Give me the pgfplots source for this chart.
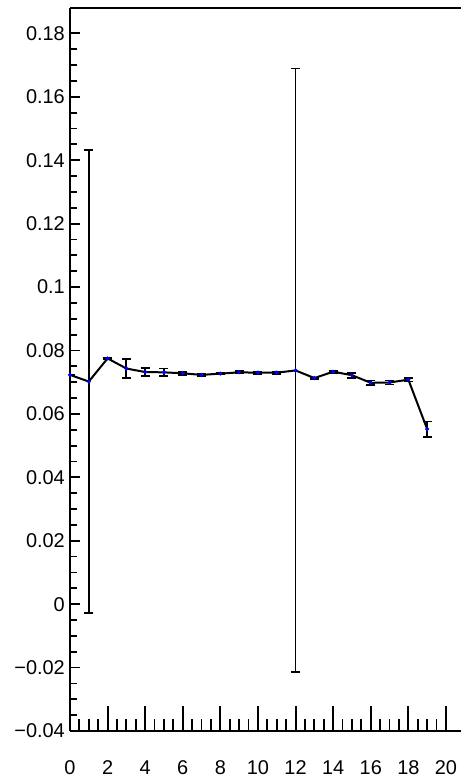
\documentclass[border=0pt]{standalone}
\usepackage{pgfplots}
\pgfplotsset{compat=1.18}
\usepackage{fontspec}
\setmainfont{Liberation Sans}
\begin{document}
\begin{tikzpicture}
\begin{axis}[
  scale only axis,
  width=391bp, height=723bp,
  xmin=0, xmax=20.8,
  ymin=-0.04, ymax=0.188,
  axis lines=left,
  axis line style={-, line width=2.8bp},
  xtick={0,2,...,20},
  xticklabels={0,2,4,6,8,10,12,14,16,18,20},
  ytick={-0.04,-0.02,0,0.02,0.04,0.06,0.08,0.1,0.12,0.14,0.16,0.18},
  yticklabels={−0.04,−0.02,0,0.02,0.04,0.06,0.08,0.1,0.12,0.14,0.16,0.18},
  minor x tick num=3,
  minor y tick num=3,
  tick align=inside,
  major tick length=25bp,
  minor tick length=12bp,
  every tick/.append style={black},
  major x tick style={black, line width=2bp},
  minor x tick style={black, line width=1.8bp},
  major y tick style={/pgfplots/major tick length=10bp, line width=1.8bp},
  minor y tick style={/pgfplots/minor tick length=7bp, line width=1.8bp},
  tick label style={font=\fontsize{20}{24}\selectfont, inner sep=0pt},
  xticklabel style={anchor=base, yshift=-43bp},
  yticklabel style={anchor=east, xshift=-5bp},
  extra description/.code={
    \draw[line width=2.8bp] (rel axis cs:0,1) -- (rel axis cs:1,1);
  },
]
\addplot[black, line width=2bp, mark=*, mark size=0.8bp,
  mark options={blue, draw=blue, fill=blue},
  error bars/.cd, y dir=both, y explicit,
  error bar style={black, line width=1.8bp},
  error mark options={black, mark size=4.5bp, line width=1.8bp, rotate=90}]
  table[x=x, y=y, y error=e] {
x y e
0 0.0723 0.0000
1 0.0702 0.0731
2 0.0775 0.0003
3 0.0743 0.0029
4 0.0732 0.0013
5 0.0731 0.0012
6 0.0728 0.0005
7 0.0723 0.0003
8 0.0727 0.0003
9 0.0731 0.0003
10 0.0730 0.0003
11 0.0730 0.0003
12 0.0737 0.0952
13 0.0713 0.0002
14 0.0733 0.0003
15 0.0722 0.0008
16 0.0698 0.0007
17 0.0699 0.0006
18 0.0708 0.0006
19 0.0552 0.0024
};
\end{axis}
\pgfresetboundingbox
\path ([xshift=-70bp,yshift=-50bp]current axis.south west) rectangle ([yshift=8bp]current axis.north east);
\end{tikzpicture}
\end{document}
